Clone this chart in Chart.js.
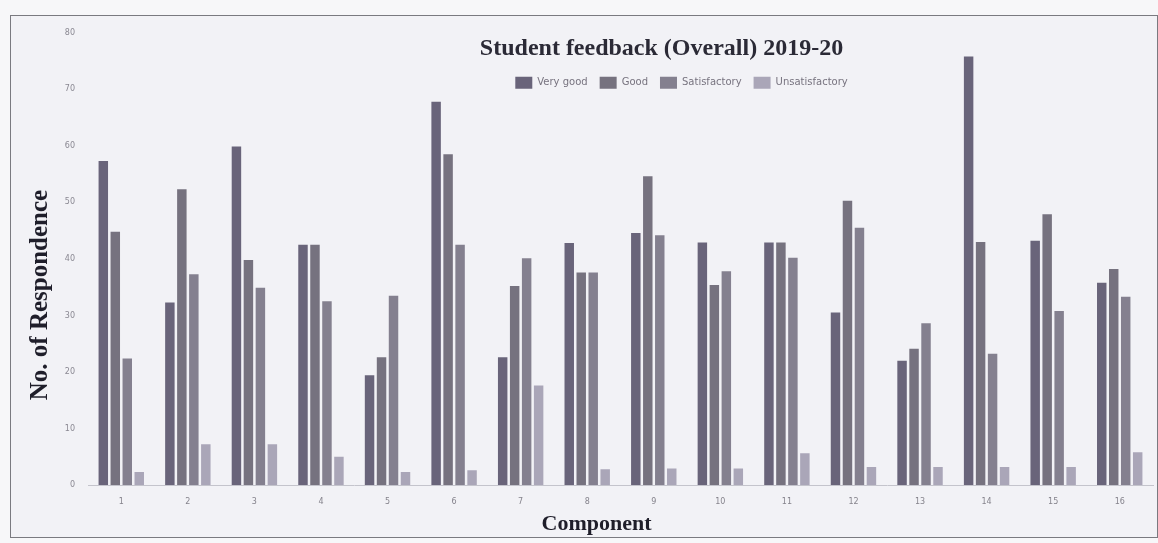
<!DOCTYPE html>
<html>
<head>
<meta charset="utf-8">
<title>Student feedback (Overall) 2019-20</title>
<script src="https://cdn.jsdelivr.net/npm/chart.js@4.4.1/dist/chart.umd.min.js"></script>
<style>
  html, body { margin: 0; padding: 0; background: #f7f7f9; }
  #wrap { position: relative; width: 1158px; height: 543px; overflow: hidden; }
  #frame { position: absolute; left: 10px; top: 15px; width: 1146px; height: 521px; border: 1px solid #7a7a80; background: #f2f2f6; }
  canvas { position: absolute; left: 0; top: 0; }
</style>
</head>
<body>
<div id="wrap">
  <div id="frame"></div>
  <canvas id="chart" width="1158" height="543"></canvas>
</div>
<script>
// Components on the x axis
const components = ['1','2','3','4','5','6','7','8','9','10','11','12','13','14','15','16'];

// Responses per component
const veryGood       = [57.3, 32.3, 59.9, 42.5, 19.4, 67.8, 22.6, 42.8, 44.6, 42.9, 42.9, 30.5, 22.0, 75.8, 43.2, 35.8];
const good           = [44.8, 52.3, 39.8, 42.5, 22.6, 58.5, 35.2, 37.6, 54.6, 35.4, 42.9, 50.3, 24.1, 43.0, 47.9, 38.2];
const satisfactory   = [22.4, 37.3, 34.9, 32.5, 33.5, 42.5, 40.1, 37.6, 44.2, 37.8, 40.2, 45.5, 28.6, 23.2, 30.8, 33.3];
const unsatisfactory = [ 2.3,  7.2,  7.2,  5.0,  2.3,  2.6, 17.6,  2.8,  2.9,  2.9,  5.6,  3.2,  3.2,  3.2,  3.2,  5.8];

const seriesNames  = ['Very good', 'Good', 'Satisfactory', 'Unsatisfactory'];
const seriesColors = ['#69647a', '#76727f', '#84808f', '#aaa6b8'];

const serif = '"Liberation Serif", "Times New Roman", serif';
const sans  = '"DejaVu Sans", sans-serif';

// Title, legend and "Component" sit inside / off-centre in the original, so move them after layout
const shiftBoxes = {
	id: 'shiftBoxes',
	afterLayout(chart) {
		const t = chart.titleBlock;
		t.left += 80; t.right += 80; t.top += 31; t.bottom += 31;

		const l = chart.legend;
		l.left += 100; l.right += 100; l.top += 33;
		l.bottom = l.top + 40; // legend clips to its own box

		// subtitle holds the x axis title
		const s = chart.boxes.find(b => b.options && b.options.text === 'Component');
		if (s) { s.left += 15; s.right += 15; s.top -= 5; s.bottom -= 5; }
	}
};

// Y axis title, drawn lower than the scale would centre it
const yTitle = {
	id: 'yTitle',
	afterDraw(chart) {
		const ctx = chart.ctx;
		ctx.save();
		ctx.translate(41, 295);
		ctx.rotate(-Math.PI / 2);
		ctx.font = 'bold 25px ' + serif;
		ctx.fillStyle = '#1f1e2a';
		ctx.textAlign = 'center';
		ctx.textBaseline = 'middle';
		ctx.fillText('No. of Respondence', 0, 0);
		ctx.restore();
	}
};

const data = {
	labels: components,
	datasets: [veryGood, good, satisfactory, unsatisfactory].map((values, i) => ({
		label: seriesNames[i],
		data: values,
		backgroundColor: seriesColors[i],
		borderWidth: 0,
		categoryPercentage: 0.72,
		barPercentage: 0.79
	}))
};

new Chart(document.getElementById('chart'), {
	type: 'bar',
	data: data,
	plugins: [shiftBoxes, yTitle],
	options: {
		responsive: false,
		animation: false,
		layout: { padding: { left: 10, right: 5, top: 3, bottom: 0 } },
		plugins: {
			title: {
				display: true,
				text: 'Student feedback (Overall) 2019-20',
				color: '#2b2a36',
				font: { family: serif, size: 24, weight: 'bold' },
				padding: 0
			},
			subtitle: {
				display: true,
				position: 'bottom',
				text: 'Component',
				color: '#1f1e2a',
				font: { family: serif, size: 22, weight: 'bold' },
				padding: 0
			},
			legend: {
				position: 'top',
				maxHeight: 1,
				labels: {
					boxWidth: 17,
					boxHeight: 12,
					padding: 12,
					color: '#77737f',
					font: { family: sans, size: 10 }
				}
			},
			tooltip: { enabled: false }
		},
		scales: {
			x: {
				grid: { display: false, drawTicks: false },
				border: { display: true, color: '#c4c4cc', width: 1 },
				ticks: { color: '#85838c', font: { family: sans, size: 8 }, padding: 12 },
				afterFit(scale) { scale.height = 31.6; }
			},
			y: {
				min: 0,
				max: 80,
				grid: { display: false, drawTicks: false },
				border: { display: false },
				ticks: { stepSize: 10, color: '#8a8892', font: { family: sans, size: 8 }, padding: 13 },
				afterFit(scale) { scale.width = 78; }
			}
		}
	}
});
</script>
</body>
</html>
